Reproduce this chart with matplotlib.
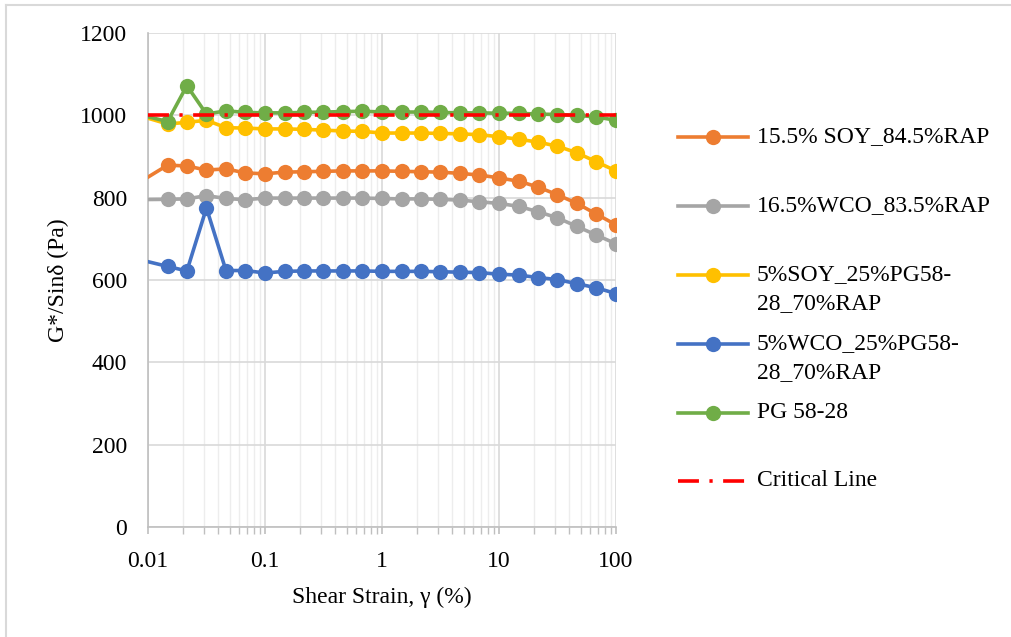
import numpy as np
import matplotlib
matplotlib.use("Agg")
import matplotlib.pyplot as plt
from matplotlib.lines import Line2D
from matplotlib.ticker import LogLocator, FixedLocator, NullFormatter

plt.rcParams['font.family'] = ['Liberation Serif', 'DejaVu Serif']

# shear strain sweep (%), six points per decade
strain = [0.00681, 0.0147, 0.0215, 0.0316, 0.0464, 0.0681, 0.1, 0.147, 0.215, 0.316,
          0.464, 0.681, 1, 1.47, 2.15, 3.16, 4.64, 6.81, 10, 14.7, 21.5, 31.6, 46.4,
          68.1, 100]

soy_rap = [821, 879, 877, 867, 870, 860, 858, 862, 863, 864, 865, 865, 865, 864, 863,
           862, 859, 855, 848, 840, 826, 807, 786, 760, 734]
wco_rap = [795, 796, 797, 805, 798, 795, 799, 799, 799, 799, 799, 799, 798, 797, 797,
           796, 794, 790, 786, 779, 766, 751, 730, 709, 688]
soy_pg = [1007, 979, 983, 988, 970, 969, 967, 967, 966, 964, 962, 961, 957, 957, 957,
          956, 955, 953, 948, 942, 935, 925, 909, 887, 865]
wco_pg = [656, 633, 622, 775, 623, 623, 617, 621, 622, 622, 622, 622, 621, 621, 621,
          620, 619, 618, 614, 612, 606, 601, 591, 581, 567]
pg5828 = [1008, 985, 1072, 1003, 1011, 1007, 1006, 1006, 1007, 1008, 1009, 1010, 1008,
          1008, 1008, 1007, 1006, 1006, 1005, 1005, 1003, 1002, 1000, 996, 988]

critical_x = [0.01, 100]
critical_y = [1000, 1000]

labels = ["15.5% SOY_84.5%RAP", "16.5%WCO_83.5%RAP", "5%SOY_25%PG58-\n28_70%RAP",
          "5%WCO_25%PG58-\n28_70%RAP", "PG 58-28", "Critical Line"]
series = [soy_rap, wco_rap, soy_pg, wco_pg, pg5828]
colors = ['#ED7D31', '#A5A5A5', '#FFC000', '#4472C4', '#70AD47']

FS = 17
LW = 2.6
MS = 11

W, H = 1011, 637
fig = plt.figure(figsize=(W / 100, H / 100), dpi=100)
ax = fig.add_axes([148 / W, 1 - 527 / H, (616 - 148) / W, (527 - 33) / H])

# outer chart frame (top and left edges)
fig.add_artist(Line2D([6 / W, 1.0], [1 - 5 / H, 1 - 5 / H], transform=fig.transFigure,
                      color='#D9D9D9', linewidth=1.5))
fig.add_artist(Line2D([6 / W, 6 / W], [0.0, 1 - 5 / H], transform=fig.transFigure,
                      color='#D9D9D9', linewidth=1.5))

for vals, c in zip(series, colors):
    ax.plot(strain, vals, color=c, linewidth=LW, marker='o', markersize=MS,
            markeredgewidth=0, zorder=3)

dash = (0, (5.8, 2.9, 0.9, 2.9))
ax.plot(critical_x, critical_y, color='#FF0000', linewidth=LW, linestyle=dash,
        dash_capstyle='butt', zorder=4)

ax.set_xscale('log')
ax.set_xlim(0.01, 100)
ax.set_ylim(0, 1200)
ax.set_yticks(np.arange(0, 1201, 200))
ax.xaxis.set_major_locator(FixedLocator([0.01, 0.1, 1, 10, 100]))
ax.set_xticklabels(['0.01', '0.1', '1', '10', '100'])
ax.xaxis.set_minor_locator(LogLocator(base=10, subs=np.arange(2, 10)))
ax.xaxis.set_minor_formatter(NullFormatter())

ax.grid(which='major', color='#D9D9D9', linewidth=1.2)
ax.grid(which='minor', axis='x', color='#EDEDED', linewidth=1.0)
ax.set_axisbelow(True)

for s in ['top', 'right']:
    ax.spines[s].set_visible(False)
for s in ['left', 'bottom']:
    ax.spines[s].set_color('#BFBFBF')
    ax.spines[s].set_linewidth(1.2)

ax.tick_params(axis='y', length=0, pad=15, labelsize=FS)
ax.tick_params(axis='x', which='major', direction='out', length=5, color='#BFBFBF',
               width=1.2, pad=12, labelsize=FS)
ax.tick_params(axis='x', which='minor', direction='out', length=5, color='#BFBFBF',
               width=1.0)

ax.set_xlabel('Shear Strain, γ (%)', fontsize=FS, labelpad=11)
ax.set_ylabel('G*/Sinδ (Pa)', fontsize=FS, labelpad=8)

# legend drawn on the right side
leg_y = [137, 206, 275, 344, 413, 481]
for i, lab in enumerate(labels):
    y = 1 - leg_y[i] / H
    if i < len(colors):
        fig.add_artist(Line2D([678 / W, 748 / W], [y, y], transform=fig.transFigure,
                              color=colors[i], linewidth=LW))
        fig.add_artist(Line2D([713 / W], [y], transform=fig.transFigure, color=colors[i],
                              marker='o', markersize=MS, markeredgewidth=0))
    else:
        fig.add_artist(Line2D([678 / W, 748 / W], [y, y], transform=fig.transFigure,
                              color='#FF0000', linewidth=LW, linestyle=dash,
                              dash_capstyle='butt'))
    fig.text(757 / W, y + 11 / H, lab, fontsize=FS, va='top', ha='left',
             linespacing=1.5)

fig.savefig('out.png', dpi=100)
